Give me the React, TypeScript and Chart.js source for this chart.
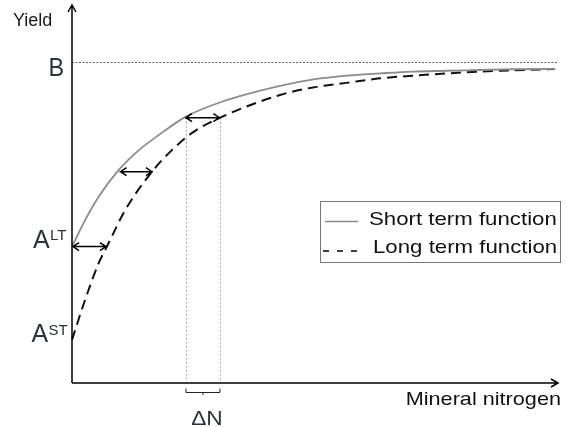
import React, { useEffect, useRef } from "react";
import { Chart, registerables } from "chart.js";

Chart.register(...registerables);

// Short term function
const shortX = [0, 2.7, 5.5, 9.6, 13.8, 17.9, 23.4, 30.9, 42.9, 49.8, 56.6, 63.5, 70.3, 77.3, 84.1, 91, 99.6];
const shortY = [36.1, 43.1, 49.3, 56.3, 61.6, 65.6, 70.4, 74.4, 78.6, 80.3, 81.3, 81.9, 82.4, 82.6, 82.8, 83.0, 83.1];
// Long term function
const longX = [0, 2.7, 5.5, 7.2, 11.0, 16.5, 20.6, 24.7, 30.2, 42.9, 49.7, 56.6, 63.5, 70.3, 77.3, 84.1, 90.9, 99.6];
const longY = [11.4, 22.0, 31.7, 36.1, 45.8, 55.9, 61.6, 66.1, 70.0, 76.2, 78.2, 79.4, 80.6, 81.3, 81.9, 82.4, 82.7, 83.1];

const plateauB = 85;
const arrowY = [36.1, 55.9, 70.2];
const arrowFrom = [0, 9.8, 23.3];
const arrowTo = [7.2, 16.7, 30.6];
const deltaN = [23.5, 30.5];

const labels = {
  yAxis: "Yield",
  xAxis: "Mineral nitrogen",
  b: "B",
  a: "A",
  lt: "LT",
  st: "ST",
  dn: "ΔN",
  short: "Short term function",
  long: "Long term function",
};

const FONT = '"Liberation Sans", Arial, sans-serif';

function txt(ctx: CanvasRenderingContext2D, s: string, x: number, y: number, size: number, align: CanvasTextAlign, sx = 1, color = "#1a1a1a") {
  ctx.save();
  ctx.font = `${size}px ${FONT}`;
  ctx.fillStyle = color;
  ctx.textBaseline = "alphabetic";
  ctx.textAlign = align;
  ctx.translate(x, y);
  ctx.scale(sx, 1);
  ctx.fillText(s, 0, 0);
  ctx.restore();
}

function dblArrow(ctx: CanvasRenderingContext2D, x1: number, x2: number, y: number) {
  ctx.save();
  ctx.strokeStyle = "#000";
  ctx.lineWidth = 1.5;
  ctx.beginPath();
  ctx.moveTo(x1, y);
  ctx.lineTo(x2, y);
  ctx.moveTo(x1 + 7, y - 4);
  ctx.lineTo(x1 + 1, y);
  ctx.lineTo(x1 + 7, y + 4);
  ctx.moveTo(x2 - 7, y - 4);
  ctx.lineTo(x2 - 1, y);
  ctx.lineTo(x2 - 7, y + 4);
  ctx.stroke();
  ctx.restore();
}

const overlay = {
  id: "overlay",
  beforeDatasetsDraw(chart: any) {
    const ctx: CanvasRenderingContext2D = chart.ctx;
    const xs = chart.scales.x;
    const ys = chart.scales.y;
    const x0 = xs.getPixelForValue(0);
    const y0 = ys.getPixelForValue(0);
    // B line
    ctx.save();
    ctx.strokeStyle = "#666";
    ctx.lineWidth = 1;
    ctx.setLineDash([2, 1.5]);
    const by = Math.round(ys.getPixelForValue(plateauB)) + 0.5;
    ctx.beginPath();
    ctx.moveTo(x0, by);
    ctx.lineTo(xs.getPixelForValue(100), by);
    ctx.stroke();
    // Delta N verticals
    ctx.strokeStyle = "#aaa";
    ctx.setLineDash([2, 2]);
    const topY = ys.getPixelForValue(arrowY[2]);
    for (const d of deltaN) {
      const px = Math.round(xs.getPixelForValue(d)) + 0.5;
      ctx.beginPath();
      ctx.moveTo(px, topY);
      ctx.lineTo(px, y0);
      ctx.stroke();
    }
    ctx.restore();
  },
  afterDraw(chart: any) {
    const ctx: CanvasRenderingContext2D = chart.ctx;
    const xs = chart.scales.x;
    const ys = chart.scales.y;
    const x0 = xs.getPixelForValue(0);
    const y0 = ys.getPixelForValue(0);
    const xEnd = xs.getPixelForValue(100) + 1;
    const yTop = ys.getPixelForValue(100);

    // axes
    ctx.save();
    ctx.strokeStyle = "#000";
    ctx.lineWidth = 1.5;
    ctx.beginPath();
    ctx.moveTo(x0, y0);
    ctx.lineTo(x0, yTop);
    ctx.moveTo(x0 - 4, yTop + 7);
    ctx.lineTo(x0, yTop);
    ctx.lineTo(x0 + 4, yTop + 7);
    ctx.moveTo(x0, y0);
    ctx.lineTo(xEnd, y0);
    ctx.moveTo(xEnd - 7, y0 - 4);
    ctx.lineTo(xEnd, y0);
    ctx.lineTo(xEnd - 7, y0 + 4);
    ctx.stroke();
    ctx.restore();

    // arrows between curves
    for (let i = 0; i < arrowY.length; i++) {
      dblArrow(ctx, xs.getPixelForValue(arrowFrom[i]), xs.getPixelForValue(arrowTo[i]), ys.getPixelForValue(arrowY[i]));
    }

    // bracket for delta N
    const bx1 = xs.getPixelForValue(deltaN[0]);
    const bx2 = xs.getPixelForValue(deltaN[1]);
    const bY = y0 + 9.5;
    ctx.save();
    ctx.strokeStyle = "#222";
    ctx.lineWidth = 1;
    ctx.beginPath();
    ctx.moveTo(bx1, bY - 4);
    ctx.lineTo(bx1, bY);
    ctx.lineTo(bx2, bY);
    ctx.lineTo(bx2, bY - 4);
    ctx.moveTo((bx1 + bx2) / 2, bY);
    ctx.lineTo((bx1 + bx2) / 2, bY + 2.5);
    ctx.stroke();
    ctx.restore();

    const lab = "#2b333d";
    // texts
    txt(ctx, labels.yAxis, 13, 26, 18, "left", 1.0);
    txt(ctx, labels.b, 64, ys.getPixelForValue(plateauB) + 14, 26, "right", 0.9, lab);
    const ltY = ys.getPixelForValue(shortY[0]) + 1.5;
    txt(ctx, labels.a, 33, ltY, 25, "left", 1.0, lab);
    txt(ctx, labels.lt, 50, ltY - 8, 15, "left", 1.0, lab);
    const stY = ys.getPixelForValue(longY[0]) + 2;
    txt(ctx, labels.a, 31.5, stY, 25, "left", 1.0, lab);
    txt(ctx, labels.st, 48.5, stY - 7, 15, "left", 1.0, lab);
    txt(ctx, labels.dn, (bx1 + bx2) / 2 + 4, y0 + 42, 21, "center", 1.08, lab);
    txt(ctx, labels.xAxis, 561, y0 + 22, 19, "right", 1.14, "#111");

    // legend
    ctx.save();
    ctx.strokeStyle = "#777";
    ctx.lineWidth = 1;
    ctx.strokeRect(320.5, 201.5, 240, 61);
    ctx.strokeStyle = "#8a8a8a";
    ctx.lineWidth = 1.5;
    ctx.beginPath();
    ctx.moveTo(325, 221.5);
    ctx.lineTo(358, 221.5);
    ctx.stroke();
    ctx.strokeStyle = "#000";
    ctx.setLineDash([6, 8]);
    ctx.beginPath();
    ctx.moveTo(323, 251);
    ctx.lineTo(358, 251);
    ctx.stroke();
    ctx.restore();
    txt(ctx, labels.short, 369, 225, 19, "left", 1.17, "#111");
    txt(ctx, labels.long, 373, 253, 19, "left", 1.17, "#111");
  },
};

export default function App() {
  const ref = useRef<HTMLCanvasElement | null>(null);
  useEffect(() => {
    document.body.style.margin = "0";
    const canvas = ref.current;
    if (!canvas) return;
    const chart = new Chart(canvas, {
      type: "line",
      data: {
        datasets: [
          {
            label: labels.short,
            data: shortX.map((x, i) => ({ x, y: shortY[i] })),
            borderColor: "#8c8c8c",
            borderWidth: 1.8,
            pointRadius: 0,
            cubicInterpolationMode: "monotone",
            clip: false as any,
            fill: false,
          },
          {
            label: labels.long,
            data: longX.map((x, i) => ({ x, y: longY[i] })),
            borderColor: "#111",
            borderWidth: 2,
            borderDash: [10, 6],
            pointRadius: 0,
            cubicInterpolationMode: "monotone",
            clip: false as any,
            fill: false,
          },
        ],
      },
      options: {
        animation: false,
        responsive: false,
        layout: { padding: { left: 72, right: 9, top: 5, bottom: 44 } },
        plugins: { legend: { display: false }, tooltip: { enabled: false } },
        scales: {
          x: { type: "linear", min: 0, max: 100, display: false },
          y: { type: "linear", min: 0, max: 100, display: false },
        },
      },
      plugins: [overlay],
    });
    return () => chart.destroy();
  }, []);
  return <canvas ref={ref} width={566} height={427} style={{ display: "block" }} />;
}
